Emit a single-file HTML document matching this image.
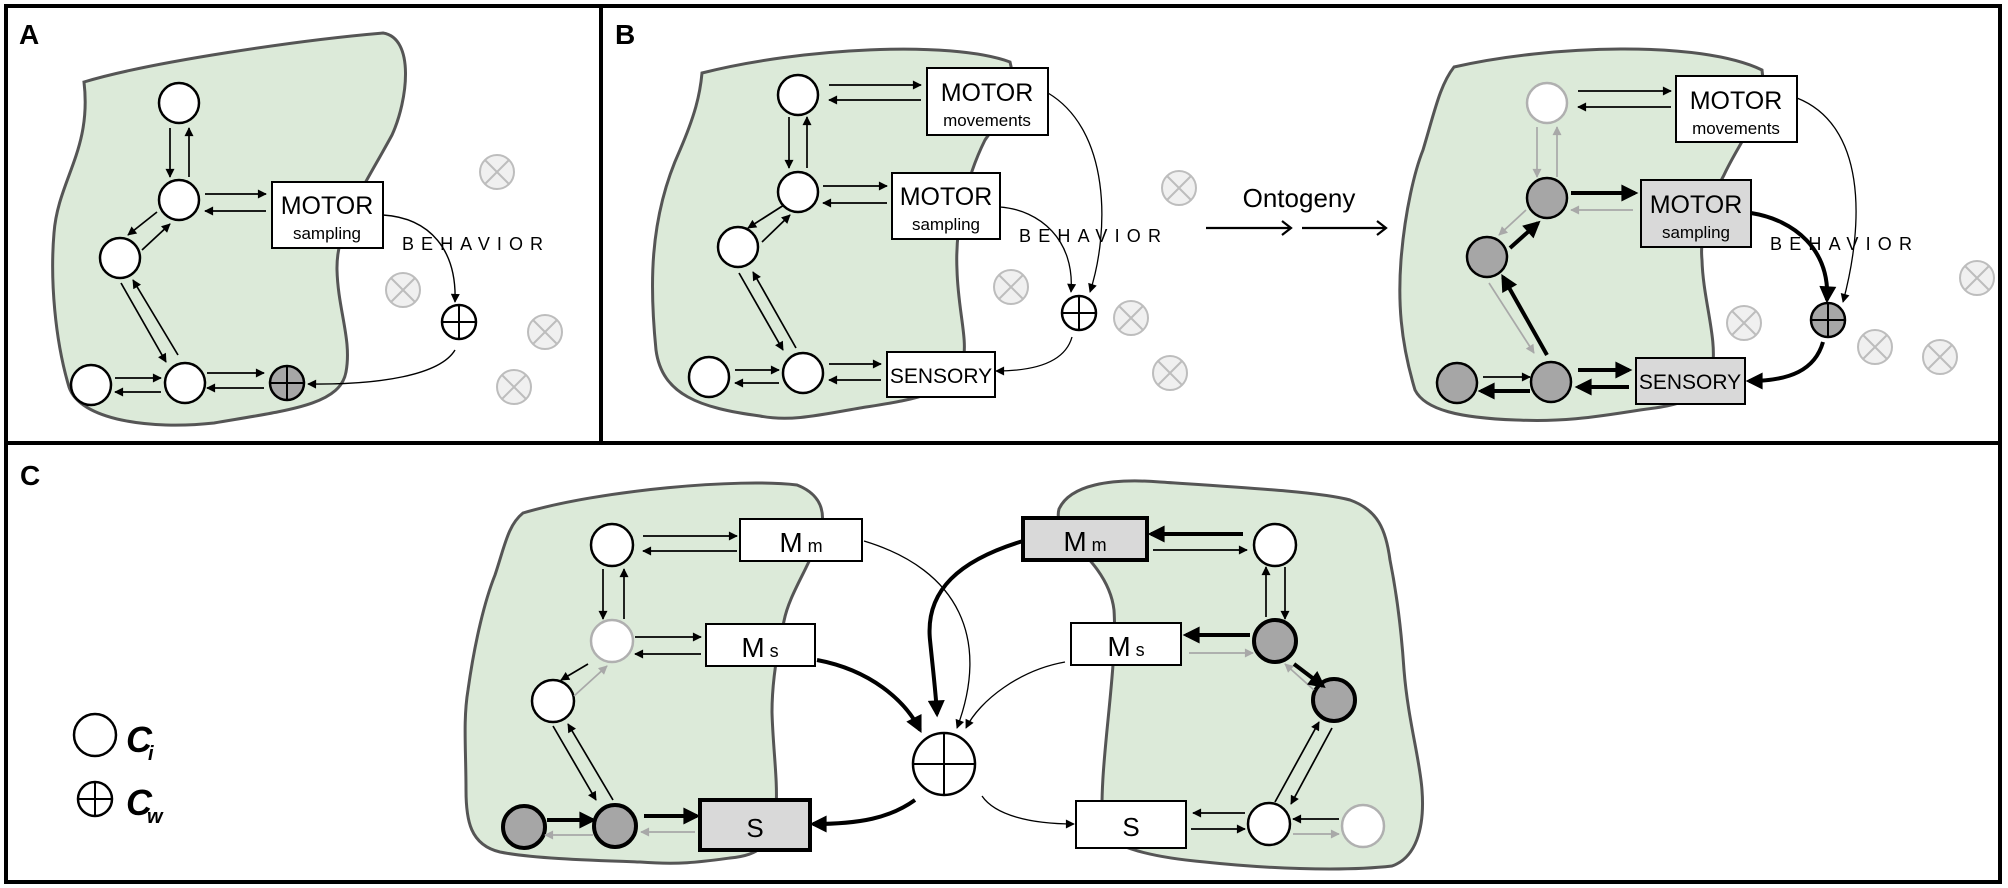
<!DOCTYPE html>
<html><head><meta charset="utf-8"><style>
html,body{margin:0;padding:0;background:#fff;}
svg{display:block;}
text{font-family:"Liberation Sans",sans-serif;fill:#000;}
</style></head><body>
<svg width="2008" height="888" viewBox="0 0 2008 888" xmlns="http://www.w3.org/2000/svg">
<defs>
<marker id="a" viewBox="0 0 10 10" refX="9" refY="5" markerWidth="10" markerHeight="9" markerUnits="userSpaceOnUse" orient="auto"><path d="M0,0L10,5L0,10z" fill="#000"/></marker>
<marker id="g" viewBox="0 0 10 10" refX="9" refY="5" markerWidth="10" markerHeight="9" markerUnits="userSpaceOnUse" orient="auto"><path d="M0,0L10,5L0,10z" fill="#a8a8a8"/></marker>
<marker id="t" viewBox="0 0 10 10" refX="8" refY="5" markerWidth="19" markerHeight="17" markerUnits="userSpaceOnUse" orient="auto"><path d="M0,0L10,5L0,10z" fill="#000"/></marker>
</defs>
<g fill="none" stroke="#000">
<rect x="6" y="6" width="1994" height="876" stroke-width="4"/>
<line x1="6" y1="443" x2="2000" y2="443" stroke-width="4"/>
<line x1="601" y1="6" x2="601" y2="443" stroke-width="4"/>
</g>
<text x="19" y="44" font-size="28" font-weight="bold">A</text>
<text x="615" y="44" font-size="28" font-weight="bold">B</text>
<text x="20" y="485" font-size="28" font-weight="bold">C</text>

<g fill="#dcead9" stroke="#555" stroke-width="3">
<path d="M84,82 C150,62 300,40 383,33 C415,38 408,100 392,135 C365,185 336,225 337,270 C338,310 352,340 346,372 C340,405 290,410 214,423 C150,430 80,420 69,387 C55,340 50,280 54,233 C58,180 92,150 84,82 Z"/>
<path d="M702,73 C800,48 950,40 1010,62 C1020,100 995,125 985,140 C965,180 955,230 957,270 C958,310 968,340 963,360 C955,395 910,400 860,408 C820,415 790,422 760,416 C700,408 662,395 656,350 C650,290 648,220 680,150 C695,115 700,95 702,73 Z"/>
<path d="M1454,67 C1550,45 1700,40 1762,70 C1768,110 1740,140 1724,175 C1705,210 1700,240 1702,260 C1703,300 1718,340 1712,370 C1705,400 1680,405 1640,410 C1590,418 1560,422 1516,420 C1460,418 1425,410 1415,390 C1400,340 1398,300 1401,260 C1405,210 1415,170 1423,150 C1435,110 1440,85 1454,67 Z"/>
<path d="M523,513 C600,490 740,478 797,485 C815,492 825,505 822,525 C815,560 790,590 784,621 C775,660 772,690 772,712 C773,750 778,780 776,810 C772,845 760,855 730,858 C700,862 680,865 640,862 C580,860 530,858 500,852 C470,845 466,820 466,790 C466,750 463,720 468,690 C475,640 485,600 495,575 C505,545 508,525 523,513 Z"/>
<path d="M1059,509 C1070,485 1110,478 1160,482 C1250,488 1320,492 1350,500 C1378,510 1386,530 1390,560 C1398,600 1402,640 1404,670 C1408,720 1420,760 1422,790 C1425,830 1415,858 1392,866 C1340,872 1260,868 1205,862 C1160,858 1120,850 1103,834 C1100,800 1104,760 1108,720 C1112,680 1116,640 1114,610 C1110,575 1080,550 1071,541 C1062,530 1056,520 1059,509 Z"/>
</g>

<g fill="#f0f0f0" stroke="#bdbdbd" stroke-width="2">
<circle cx="497" cy="172" r="17"/><path d="M485,160L509,184M509,160L485,184"/>
<circle cx="403" cy="290" r="17"/><path d="M391,278L415,302M415,278L391,302"/>
<circle cx="545" cy="332" r="17"/><path d="M533,320L557,344M557,320L533,344"/>
<circle cx="514" cy="387" r="17"/><path d="M502,375L526,399M526,375L502,399"/>
<circle cx="1179" cy="188" r="17"/><path d="M1167,176L1191,200M1191,176L1167,200"/>
<circle cx="1011" cy="287" r="17"/><path d="M999,275L1023,299M1023,275L999,299"/>
<circle cx="1131" cy="318" r="17"/><path d="M1119,306L1143,330M1143,306L1119,330"/>
<circle cx="1170" cy="373" r="17"/><path d="M1158,361L1182,385M1182,361L1158,385"/>
<circle cx="1977" cy="278" r="17"/><path d="M1965,266L1989,290M1989,266L1965,290"/>
<circle cx="1744" cy="323" r="17"/><path d="M1732,311L1756,335M1756,311L1732,335"/>
<circle cx="1875" cy="347" r="17"/><path d="M1863,335L1887,359M1887,335L1863,359"/>
<circle cx="1940" cy="357" r="17"/><path d="M1928,345L1952,369M1952,345L1928,369"/>
</g>

<!-- Panel A -->
<g stroke="#000" stroke-width="2.5" fill="#fff">
<circle cx="179" cy="103" r="20"/><circle cx="179" cy="200" r="20"/><circle cx="120" cy="258" r="20"/>
<circle cx="91" cy="385" r="20"/><circle cx="185" cy="383" r="20"/>
<circle cx="287" cy="383" r="17" fill="#a6a6a6"/>
<circle cx="459" cy="322" r="17"/>
<rect x="272" y="182" width="111" height="66" stroke-width="2"/>
</g>
<g stroke="#000" stroke-width="2"><path d="M287,366V400M270,383H304M459,305V339M442,322H476"/></g>
<text x="327" y="214" font-size="25" text-anchor="middle">MOTOR</text>
<text x="327" y="239" font-size="17" text-anchor="middle">sampling</text>
<text x="402" y="250" font-size="18" textLength="141" lengthAdjust="spacing">BEHAVIOR</text>
<g stroke="#000" stroke-width="1.7" fill="none" marker-end="url(#a)">
<line x1="170" y1="128" x2="170" y2="177"/><line x1="189" y1="177" x2="189" y2="128"/>
<line x1="205" y1="194" x2="266" y2="194"/><line x1="266" y1="211" x2="205" y2="211"/>
<line x1="157" y1="212" x2="128" y2="235"/><line x1="142" y1="250" x2="170" y2="224"/>
<line x1="121" y1="283" x2="166" y2="362"/><line x1="178" y1="355" x2="133" y2="280"/>
<line x1="115" y1="378" x2="161" y2="378"/><line x1="161" y1="392" x2="115" y2="392"/>
<line x1="207" y1="373" x2="264" y2="373"/><line x1="264" y1="388" x2="207" y2="388"/>
<path d="M383,215 C430,218 457,250 455,302" stroke-width="1.4"/>
<path d="M455,350 C440,375 380,385 308,384" stroke-width="1.4"/>
</g>

<!-- Panel B left -->
<g stroke="#000" stroke-width="2.5" fill="#fff">
<circle cx="798" cy="95" r="20"/><circle cx="798" cy="192" r="20"/><circle cx="738" cy="247" r="20"/>
<circle cx="709" cy="377" r="20"/><circle cx="803" cy="373" r="20"/>
<circle cx="1079" cy="313" r="17"/>
<rect x="927" y="68" width="121" height="67" stroke-width="2"/>
<rect x="892" y="173" width="108" height="66" stroke-width="2"/>
<rect x="887" y="352" width="108" height="45" stroke-width="2"/>
</g>
<g stroke="#000" stroke-width="2"><path d="M1079,296V330M1062,313H1096"/></g>
<text x="987" y="101" font-size="25" text-anchor="middle">MOTOR</text>
<text x="987" y="126" font-size="17" text-anchor="middle">movements</text>
<text x="946" y="205" font-size="25" text-anchor="middle">MOTOR</text>
<text x="946" y="230" font-size="17" text-anchor="middle">sampling</text>
<text x="941" y="383" font-size="21" text-anchor="middle">SENSORY</text>
<text x="1019" y="242" font-size="18" textLength="142" lengthAdjust="spacing">BEHAVIOR</text>
<g stroke="#000" stroke-width="1.7" fill="none" marker-end="url(#a)">
<line x1="829" y1="85" x2="921" y2="85"/><line x1="921" y1="100" x2="829" y2="100"/>
<line x1="789" y1="117" x2="789" y2="168"/><line x1="807" y1="168" x2="807" y2="117"/>
<line x1="823" y1="186" x2="887" y2="186"/><line x1="887" y1="203" x2="823" y2="203"/>
<line x1="784" y1="205" x2="748" y2="228"/><line x1="762" y1="242" x2="790" y2="215"/>
<line x1="739" y1="273" x2="783" y2="350"/><line x1="796" y1="348" x2="753" y2="272"/>
<line x1="735" y1="370" x2="779" y2="370"/><line x1="779" y1="383" x2="735" y2="383"/>
<line x1="829" y1="364" x2="881" y2="364"/><line x1="881" y1="380" x2="829" y2="380"/>
<path d="M1048,93 C1110,130 1110,230 1090,292" stroke-width="1.3"/>
<path d="M1000,207 C1040,210 1075,240 1071,292" stroke-width="1.3"/>
<path d="M1072,337 C1065,362 1035,371 996,371" stroke-width="1.3"/>
</g>
<text x="1299" y="207" font-size="26" text-anchor="middle">Ontogeny</text>
<g stroke="#000" stroke-width="2.2" fill="none">
<path d="M1206,228H1290M1282,221L1291,228L1282,235"/>
<path d="M1302,228H1385M1377,221L1386,228L1377,235"/>
</g>

<!-- Panel B right -->
<g stroke="#000" stroke-width="2.5" fill="#a6a6a6">
<circle cx="1547" cy="103" r="20" fill="#fff" stroke="#b0b0b0"/>
<circle cx="1547" cy="198" r="20"/><circle cx="1487" cy="257" r="20"/>
<circle cx="1457" cy="383" r="20"/><circle cx="1551" cy="382" r="20"/>
<circle cx="1828" cy="320" r="17"/>
<rect x="1676" y="76" width="121" height="66" fill="#fff" stroke-width="2"/>
<rect x="1641" y="180" width="110" height="67" fill="#d9d9d9" stroke-width="2"/>
<rect x="1636" y="358" width="109" height="46" fill="#d9d9d9" stroke-width="2"/>
</g>
<g stroke="#000" stroke-width="2"><path d="M1828,303V337M1811,320H1845"/></g>
<text x="1736" y="109" font-size="25" text-anchor="middle">MOTOR</text>
<text x="1736" y="134" font-size="17" text-anchor="middle">movements</text>
<text x="1696" y="213" font-size="25" text-anchor="middle">MOTOR</text>
<text x="1696" y="238" font-size="17" text-anchor="middle">sampling</text>
<text x="1690" y="389" font-size="21" text-anchor="middle">SENSORY</text>
<text x="1770" y="250" font-size="18" textLength="142" lengthAdjust="spacing">BEHAVIOR</text>
<g stroke="#000" stroke-width="1.7" fill="none" marker-end="url(#a)">
<line x1="1578" y1="91" x2="1671" y2="91"/><line x1="1671" y1="107" x2="1578" y2="107"/>
<line x1="1483" y1="377" x2="1530" y2="377"/>
<path d="M1797,98 C1865,125 1865,220 1843,302" stroke-width="1.3"/>
</g>
<g stroke="#a8a8a8" stroke-width="1.7" fill="none" marker-end="url(#g)">
<line x1="1537" y1="127" x2="1537" y2="177"/><line x1="1557" y1="177" x2="1557" y2="127"/>
<line x1="1633" y1="210" x2="1571" y2="210"/>
<line x1="1526" y1="210" x2="1499" y2="235"/>
<line x1="1489" y1="283" x2="1534" y2="353"/>
</g>
<g stroke="#000" stroke-width="4" fill="none" marker-end="url(#t)">
<line x1="1571" y1="193" x2="1635" y2="193"/>
<line x1="1510" y1="248" x2="1538" y2="223"/>
<line x1="1547" y1="355" x2="1503" y2="277"/>
<line x1="1530" y1="391" x2="1481" y2="391"/>
<line x1="1578" y1="370" x2="1629" y2="370"/><line x1="1629" y1="387" x2="1578" y2="387"/>
<path d="M1751,213 C1795,220 1830,250 1827,300"/>
<path d="M1823,342 C1815,370 1790,381 1749,381"/>
</g>

<!-- Panel C -->
<g stroke="#000" stroke-width="2.5" fill="#fff">
<circle cx="612" cy="545" r="21"/>
<circle cx="612" cy="641" r="21" stroke="#b0b0b0"/>
<circle cx="553" cy="701" r="21"/>
<circle cx="524" cy="827" r="21" fill="#a6a6a6" stroke-width="4"/>
<circle cx="615" cy="826" r="21" fill="#a6a6a6" stroke-width="4"/>
<circle cx="1275" cy="545" r="21"/>
<circle cx="1275" cy="641" r="21" fill="#a6a6a6" stroke-width="4"/>
<circle cx="1334" cy="700" r="21" fill="#a6a6a6" stroke-width="4"/>
<circle cx="1269" cy="824" r="21"/>
<circle cx="1363" cy="826" r="21" stroke="#b0b0b0"/>
<circle cx="944" cy="764" r="31"/>
<rect x="740" y="519" width="122" height="42" stroke-width="2"/>
<rect x="706" y="624" width="109" height="42" stroke-width="2"/>
<rect x="700" y="800" width="110" height="50" fill="#d9d9d9" stroke-width="4"/>
<rect x="1023" y="518" width="124" height="42" fill="#d9d9d9" stroke-width="4"/>
<rect x="1071" y="623" width="110" height="42" stroke-width="2"/>
<rect x="1076" y="801" width="110" height="47" stroke-width="2"/>
<circle cx="95" cy="735" r="21"/>
<circle cx="95" cy="799" r="17"/>
</g>
<g stroke="#000" stroke-width="2"><path d="M944,733V795M913,764H975M95,782V816M78,799H112"/></g>
<text x="801" y="552" font-size="28" text-anchor="middle">M<tspan font-size="18"> m</tspan></text>
<text x="760" y="657" font-size="28" text-anchor="middle">M<tspan font-size="18"> s</tspan></text>
<text x="755" y="837" font-size="26" text-anchor="middle">S</text>
<text x="1085" y="551" font-size="28" text-anchor="middle">M<tspan font-size="18"> m</tspan></text>
<text x="1126" y="656" font-size="28" text-anchor="middle">M<tspan font-size="18"> s</tspan></text>
<text x="1131" y="836" font-size="26" text-anchor="middle">S</text>
<text x="126" y="752" font-size="36" font-weight="bold" font-style="italic">C</text>
<text x="148" y="760" font-size="20" font-weight="bold" font-style="italic">i</text>
<text x="126" y="815" font-size="36" font-weight="bold" font-style="italic">C</text>
<text x="147" y="823" font-size="20" font-weight="bold" font-style="italic">w</text>

<g stroke="#000" stroke-width="1.7" fill="none" marker-end="url(#a)">
<line x1="643" y1="536" x2="737" y2="536"/><line x1="737" y1="551" x2="643" y2="551"/>
<line x1="603" y1="569" x2="603" y2="619"/><line x1="624" y1="619" x2="624" y2="569"/>
<line x1="635" y1="637" x2="701" y2="637"/><line x1="701" y1="654" x2="635" y2="654"/>
<line x1="588" y1="664" x2="561" y2="680"/>
<line x1="553" y1="726" x2="596" y2="800"/><line x1="613" y1="800" x2="568" y2="724"/>
<line x1="1153" y1="550" x2="1247" y2="550"/>
<line x1="1266" y1="617" x2="1266" y2="567"/><line x1="1285" y1="567" x2="1285" y2="619"/>
<line x1="1275" y1="802" x2="1319" y2="722"/><line x1="1332" y1="728" x2="1291" y2="804"/>
<line x1="1245" y1="813" x2="1193" y2="813"/><line x1="1191" y1="829" x2="1245" y2="829"/>
<line x1="1339" y1="819" x2="1293" y2="819"/>
<path d="M864,541 C960,570 990,640 957,728" stroke-width="1.3"/>
<path d="M1065,662 C1020,670 980,700 966,728" stroke-width="1.3"/>
<path d="M982,796 C995,815 1030,824 1074,824" stroke-width="1.3"/>
</g>
<g stroke="#a8a8a8" stroke-width="1.7" fill="none" marker-end="url(#g)">
<line x1="574" y1="696" x2="607" y2="666"/>
<line x1="593" y1="835" x2="545" y2="835"/>
<line x1="695" y1="832" x2="641" y2="832"/>
<line x1="1189" y1="653" x2="1253" y2="653"/>
<line x1="1314" y1="690" x2="1285" y2="664"/>
<line x1="1293" y1="834" x2="1339" y2="834"/>
</g>
<g stroke="#000" stroke-width="4" fill="none" marker-end="url(#t)">
<line x1="547" y1="820" x2="593" y2="820"/>
<line x1="644" y1="816" x2="697" y2="816"/>
<line x1="1243" y1="534" x2="1151" y2="534"/>
<line x1="1250" y1="635" x2="1186" y2="635"/>
<line x1="1294" y1="664" x2="1323" y2="686"/>
<path d="M817,660 C870,670 905,700 920,730"/>
<path d="M1023,541 C960,560 925,590 930,640 C933,670 936,695 937,714"/>
<path d="M915,800 C890,818 860,824 813,824"/>
</g>
</svg>
</body></html>
